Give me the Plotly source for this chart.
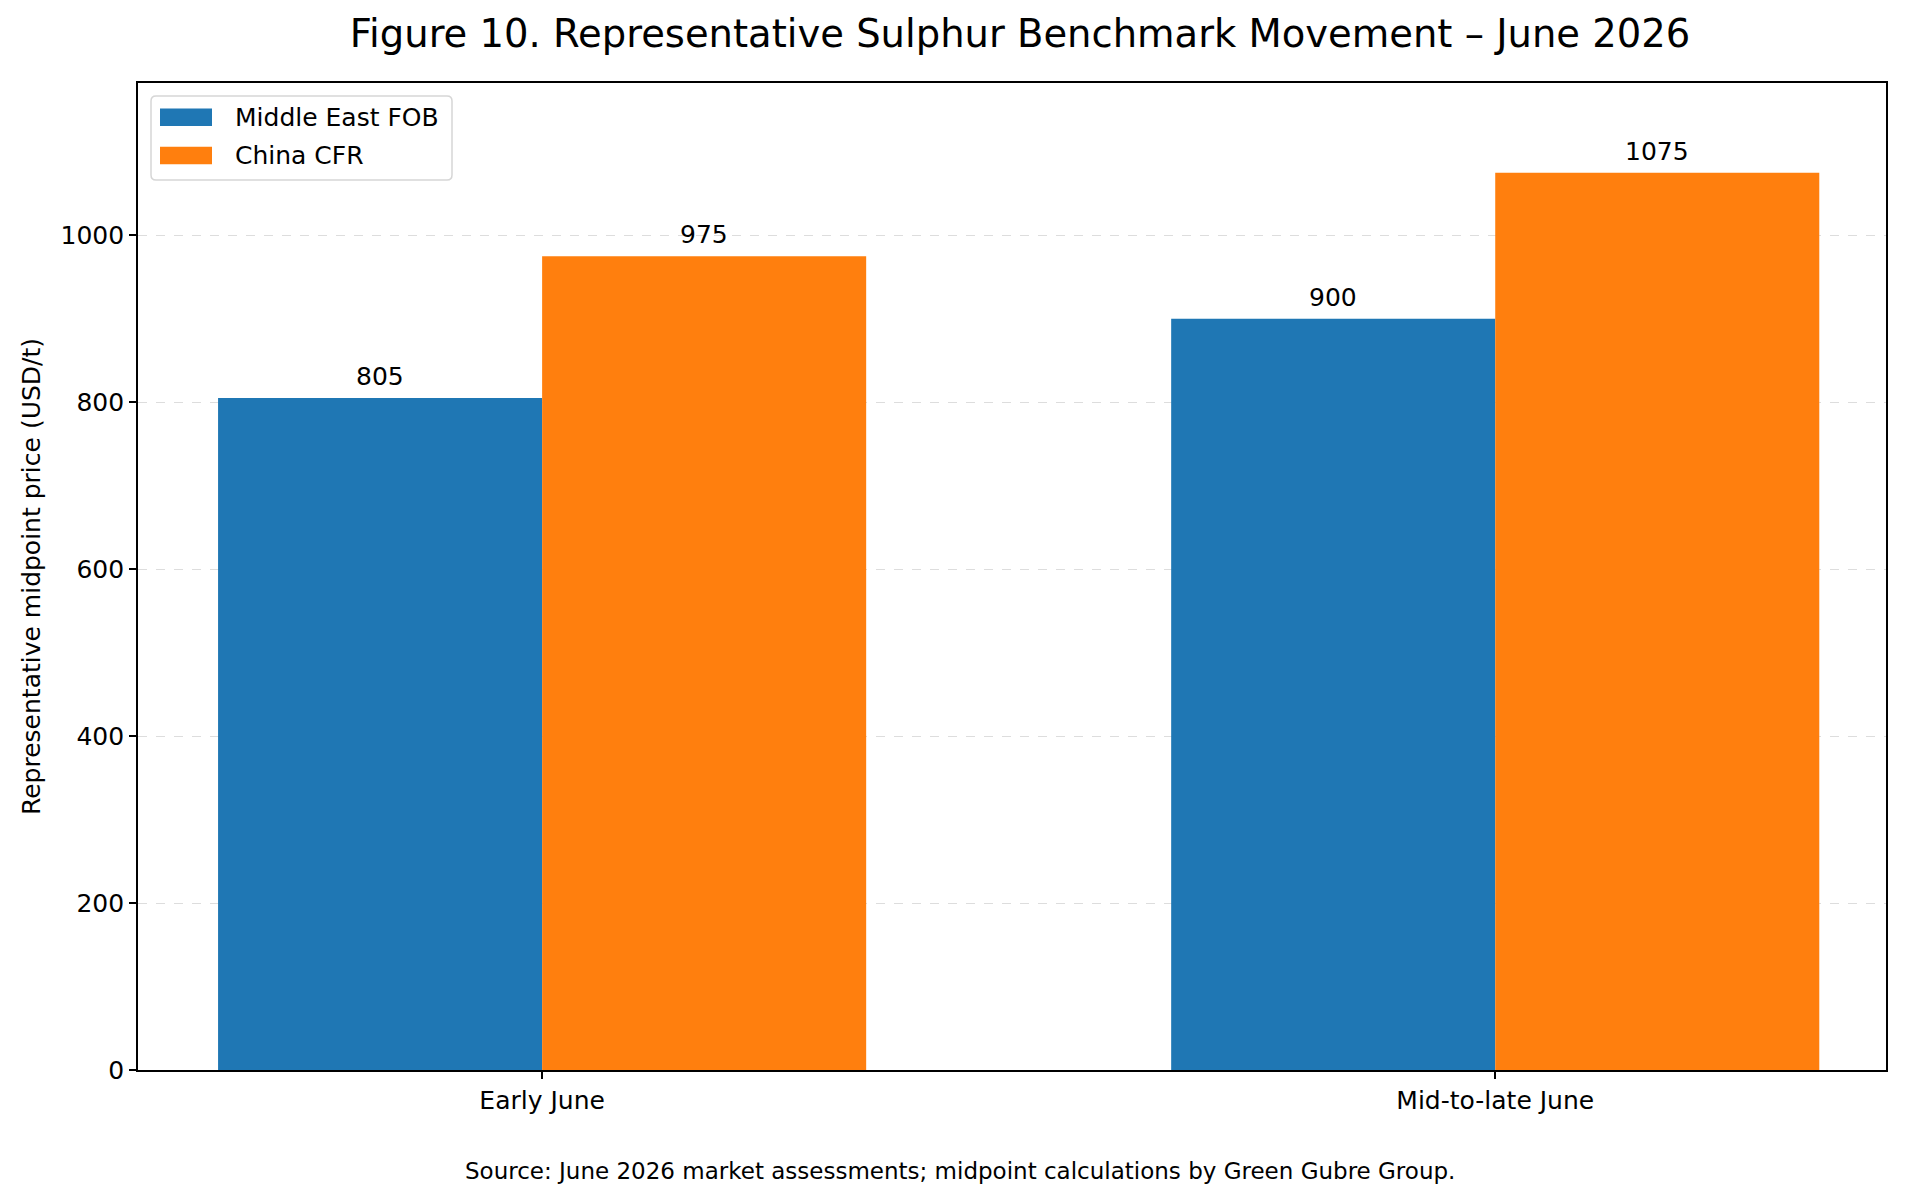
import plotly.graph_objects as go

categories = ["Early June", "Mid-to-late June"]
series_names = ["Middle East FOB", "China CFR"]
middle_east_fob = [805, 900]
china_cfr = [975, 1075]
y_ticks = [0, 200, 400, 600, 800, 1000]

colors = ["#1f77b4", "#ff7f0e"]
font = "DejaVu Sans"
bw = 0.34
xpos = list(range(len(categories)))

W, H = 1920, 1201
L, R, T, B = 138, 1886, 83, 1070


def px(x):
    return (x - L) / (R - L)


def py(y):
    return (B - y) / (B - T)


fig = go.Figure()
for vals, name, col, off in [(middle_east_fob, series_names[0], colors[0], -bw),
                             (china_cfr, series_names[1], colors[1], 0.0)]:
    fig.add_trace(go.Bar(
        x=xpos, y=vals, name=name, width=bw, offset=off,
        marker=dict(color=col, line=dict(width=0)), showlegend=False,
    ))
    for xi, v in zip(xpos, vals):
        fig.add_annotation(x=xi + off + bw / 2, y=v, text=str(v), showarrow=False,
                           xref="x", yref="y", yanchor="bottom", yshift=5,
                           font=dict(family=font, size=25, color="black"))

# legend (drawn manually to mimic wide patches)
bx0, bx1, by0, by1, rr = 151, 452, 96, 180, 5
path = (f"M {px(bx0+rr)},{py(by0)} L {px(bx1-rr)},{py(by0)} "
        f"Q {px(bx1)},{py(by0)} {px(bx1)},{py(by0+rr)} L {px(bx1)},{py(by1-rr)} "
        f"Q {px(bx1)},{py(by1)} {px(bx1-rr)},{py(by1)} L {px(bx0+rr)},{py(by1)} "
        f"Q {px(bx0)},{py(by1)} {px(bx0)},{py(by1-rr)} L {px(bx0)},{py(by0+rr)} "
        f"Q {px(bx0)},{py(by0)} {px(bx0+rr)},{py(by0)} Z")
fig.add_shape(type="path", path=path, xref="paper", yref="paper",
              fillcolor="rgba(255,255,255,0.8)", line=dict(color="#d6d6d6", width=1.5))
for i, (name, col) in enumerate(zip(series_names, colors)):
    cy = 117.2 + i * 38.3
    fig.add_shape(type="rect", xref="paper", yref="paper",
                  x0=px(160), x1=px(212), y0=py(cy - 8.8), y1=py(cy + 8.8),
                  fillcolor=col, line=dict(width=0))
    fig.add_annotation(text=name, xref="paper", yref="paper", x=px(233), y=py(cy),
                       xanchor="left", yanchor="middle", showarrow=False,
                       font=dict(family=font, size=25, color="black"))

fig.update_layout(
    width=W, height=H,
    margin=dict(l=L, r=W - R, t=T, b=H - B),
    paper_bgcolor="white", plot_bgcolor="white",
    barmode="overlay",
    showlegend=False,
    title=dict(text="Figure 10. Representative Sulphur Benchmark Movement – June 2026",
               xref="paper", x=px(1020), xanchor="center", y=1 - 34 / H, yanchor="middle",
               font=dict(family=font, size=38.5, color="black")),
    font=dict(family=font, size=25, color="black"),
)
fig.update_xaxes(
    range=[-0.424, 1.410], tickvals=xpos, ticktext=categories,
    showline=True, linecolor="black", linewidth=1.6, mirror=True,
    ticks="outside", ticklen=7, tickwidth=1.6, tickcolor="black",
    showgrid=False, zeroline=False,
    tickfont=dict(family=font, size=25, color="black"),
)
fig.update_yaxes(
    range=[0, 1182.5], tickvals=y_ticks,
    showline=True, linecolor="black", linewidth=1.6, mirror=True,
    ticks="outside", ticklen=7, tickwidth=1.6, tickcolor="black",
    showgrid=True, gridcolor="rgba(180,180,180,0.45)", griddash="dash", gridwidth=1.2,
    zeroline=False,
    title=dict(text="Representative midpoint price (USD/t)", standoff=13,
               font=dict(family=font, size=25, color="black")),
    tickfont=dict(family=font, size=25, color="black"),
)
fig.add_annotation(text="Source: June 2026 market assessments; midpoint calculations by Green Gubre Group.",
                   xref="paper", yref="paper", x=px(W / 2), y=py(1171),
                   xanchor="center", yanchor="middle", showarrow=False,
                   font=dict(family=font, size=23, color="black"))

fig.write_html("out.html")
